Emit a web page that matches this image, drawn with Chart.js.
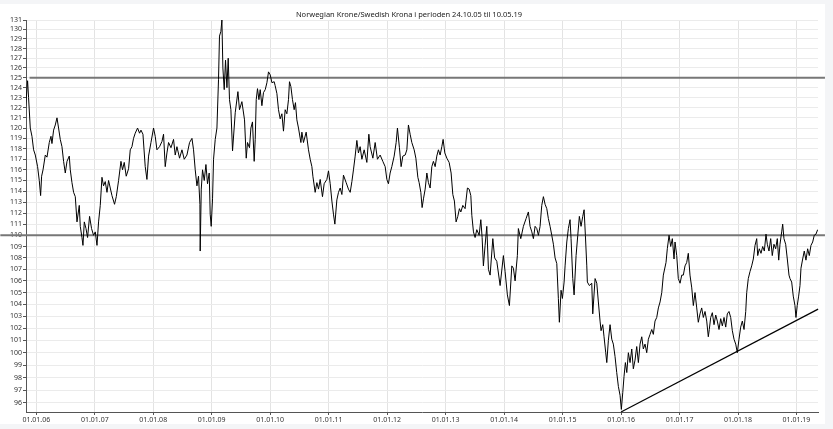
<!DOCTYPE html>
<html>
<head>
<meta charset="utf-8">
<script src="https://cdn.jsdelivr.net/npm/chart.js@4.4.1/dist/chart.umd.min.js"></script>
<style>
  html, body { margin: 0; padding: 0; background: #f4f5f7; }
  #wrap { position: absolute; left: 0; top: 4px; width: 825px; height: 420px; background: #fff; }
  canvas { display: block; }
</style>
</head>
<body>
<div id="wrap"><canvas id="nokSek" width="825" height="420"></canvas></div>
<script>
// Title text
const chartTitle = 'Norwegian Krone/Swedish Krona i perioden 24.10.05 til 10.05.19';

// Dates as decimal years
const dateYears = [
  2005.817, 2005.851, 2005.868, 2005.897, 2005.926, 2005.954, 2005.983, 2006.022, 2006.051, 2006.074,
  2006.091, 2006.115, 2006.154, 2006.183, 2006.222, 2006.251, 2006.268, 2006.296, 2006.325, 2006.354,
  2006.381, 2006.410, 2006.439, 2006.467, 2006.496, 2006.525, 2006.564, 2006.581, 2006.610, 2006.638,
  2006.667, 2006.696, 2006.735, 2006.752, 2006.781, 2006.798, 2006.821, 2006.850, 2006.877, 2006.911,
  2006.945, 2006.979, 2007.009, 2007.038, 2007.065, 2007.094, 2007.123, 2007.150, 2007.179, 2007.209,
  2007.236, 2007.265, 2007.294, 2007.338, 2007.368, 2007.407, 2007.448, 2007.475, 2007.504, 2007.538,
  2007.578, 2007.607, 2007.636, 2007.663, 2007.692, 2007.732, 2007.766, 2007.790, 2007.824, 2007.863,
  2007.892, 2007.920, 2007.961, 2008.005, 2008.034, 2008.063, 2008.108, 2008.149, 2008.176, 2008.205,
  2008.234, 2008.262, 2008.303, 2008.347, 2008.376, 2008.405, 2008.450, 2008.491, 2008.530, 2008.576,
  2008.621, 2008.662, 2008.689, 2008.718, 2008.747, 2008.774, 2008.798, 2008.803, 2008.821, 2008.843,
  2008.872, 2008.901, 2008.928, 2008.957, 2008.974, 2008.991, 2009.014, 2009.031, 2009.060, 2009.089,
  2009.116, 2009.133, 2009.157, 2009.174, 2009.191, 2009.214, 2009.236, 2009.260, 2009.282, 2009.304,
  2009.328, 2009.356, 2009.402, 2009.448, 2009.475, 2009.516, 2009.561, 2009.590, 2009.612, 2009.646,
  2009.670, 2009.697, 2009.726, 2009.744, 2009.761, 2009.783, 2009.807, 2009.829, 2009.858, 2009.885,
  2009.915, 2009.944, 2009.971, 2010.000, 2010.029, 2010.068, 2010.085, 2010.115, 2010.142, 2010.171,
  2010.200, 2010.227, 2010.256, 2010.285, 2010.313, 2010.330, 2010.354, 2010.381, 2010.410, 2010.432,
  2010.456, 2010.484, 2010.525, 2010.542, 2010.569, 2010.615, 2010.655, 2010.684, 2010.713, 2010.730,
  2010.769, 2010.798, 2010.826, 2010.855, 2010.894, 2010.923, 2010.969, 2010.997, 2011.026, 2011.055,
  2011.082, 2011.106, 2011.140, 2011.168, 2011.197, 2011.226, 2011.253, 2011.299, 2011.338, 2011.368,
  2011.397, 2011.424, 2011.453, 2011.482, 2011.509, 2011.538, 2011.568, 2011.607, 2011.653, 2011.687,
  2011.709, 2011.756, 2011.795, 2011.834, 2011.880, 2011.926, 2011.966, 2011.995, 2012.022, 2012.051,
  2012.080, 2012.120, 2012.154, 2012.176, 2012.210, 2012.239, 2012.268, 2012.308, 2012.337, 2012.364,
  2012.393, 2012.422, 2012.462, 2012.491, 2012.525, 2012.547, 2012.576, 2012.598, 2012.621, 2012.650,
  2012.679, 2012.706, 2012.735, 2012.764, 2012.791, 2012.821, 2012.849, 2012.877, 2012.906, 2012.935,
  2012.957, 2012.986, 2013.021, 2013.060, 2013.094, 2013.123, 2013.150, 2013.179, 2013.208, 2013.236,
  2013.260, 2013.294, 2013.333, 2013.373, 2013.402, 2013.431, 2013.448, 2013.476, 2013.504, 2013.533,
  2013.573, 2013.602, 2013.624, 2013.646, 2013.675, 2013.704, 2013.732, 2013.761, 2013.807, 2013.838,
  2013.875, 2013.932, 2013.988, 2014.017, 2014.056, 2014.091, 2014.132, 2014.159, 2014.188, 2014.227,
  2014.244, 2014.285, 2014.330, 2014.376, 2014.415, 2014.444, 2014.474, 2014.501, 2014.530, 2014.559,
  2014.587, 2014.615, 2014.644, 2014.672, 2014.701, 2014.730, 2014.757, 2014.786, 2014.815, 2014.843,
  2014.872, 2014.901, 2014.928, 2014.945, 2014.974, 2014.997, 2015.026, 2015.043, 2015.072, 2015.099,
  2015.128, 2015.145, 2015.174, 2015.197, 2015.231, 2015.260, 2015.287, 2015.316, 2015.345, 2015.368,
  2015.390, 2015.414, 2015.424, 2015.458, 2015.499, 2015.516, 2015.556, 2015.585, 2015.612, 2015.641,
  2015.658, 2015.687, 2015.709, 2015.738, 2015.756, 2015.783, 2015.812, 2015.841, 2015.868, 2015.897,
  2015.926, 2015.954, 2015.983, 2016.005, 2016.029, 2016.051, 2016.074, 2016.098, 2016.125, 2016.154,
  2016.183, 2016.210, 2016.239, 2016.268, 2016.296, 2016.325, 2016.354, 2016.381, 2016.410, 2016.439,
  2016.467, 2016.496, 2016.525, 2016.552, 2016.581, 2016.610, 2016.638, 2016.667, 2016.696, 2016.723,
  2016.769, 2016.791, 2016.821, 2016.849, 2016.877, 2016.906, 2016.923, 2016.952, 2016.979, 2017.009,
  2017.038, 2017.065, 2017.094, 2017.123, 2017.150, 2017.179, 2017.209, 2017.236, 2017.265, 2017.294,
  2017.321, 2017.350, 2017.379, 2017.407, 2017.436, 2017.465, 2017.492, 2017.509, 2017.533, 2017.561,
  2017.590, 2017.619, 2017.646, 2017.675, 2017.704, 2017.732, 2017.761, 2017.790, 2017.817, 2017.846,
  2017.875, 2017.903, 2017.932, 2017.961, 2017.988, 2018.017, 2018.046, 2018.074, 2018.103, 2018.132,
  2018.149, 2018.176, 2018.205, 2018.234, 2018.262, 2018.291, 2018.320, 2018.337, 2018.364, 2018.393,
  2018.422, 2018.450, 2018.479, 2018.501, 2018.530, 2018.559, 2018.586, 2018.615, 2018.644, 2018.672,
  2018.696, 2018.718, 2018.747, 2018.764, 2018.786, 2018.815, 2018.843, 2018.872, 2018.889, 2018.918,
  2018.945, 2018.974, 2018.991, 2019.013, 2019.037, 2019.060, 2019.077, 2019.106, 2019.133, 2019.162,
  2019.191, 2019.219, 2019.248, 2019.277, 2019.304, 2019.333, 2019.362
];

// NOK/SEK (SEK per 100 NOK)
const rateValues = [
  122.0, 124.7, 123.0, 120.0, 119.2, 117.9, 117.4, 116.3, 115.0, 113.6,
  115.4, 116.0, 117.4, 117.2, 118.6, 119.2, 118.5, 119.8, 120.3, 121.0,
  120.0, 118.9, 118.2, 116.8, 115.7, 116.8, 117.3, 116.0, 114.8, 113.9,
  113.5, 111.2, 112.7, 110.8, 109.8, 109.1, 111.2, 110.6, 109.8, 111.7,
  110.6, 110.0, 110.3, 109.1, 111.2, 112.7, 115.3, 114.5, 114.9, 113.9,
  115.0, 114.3, 113.6, 112.8, 113.5, 115.0, 116.8, 116.0, 116.7, 115.4,
  116.1, 117.9, 118.2, 119.0, 119.5, 120.0, 119.5, 119.8, 119.4, 116.3,
  115.1, 117.3, 118.6, 120.0, 119.2, 117.9, 118.2, 118.7, 119.4, 116.3,
  117.6, 118.6, 118.1, 118.9, 117.4, 118.2, 117.1, 117.9, 117.0, 117.4,
  118.6, 119.0, 117.9, 116.0, 114.5, 115.4, 112.8, 108.6, 114.2, 116.0,
  115.0, 116.5, 114.7, 115.7, 111.9, 110.8, 113.3, 117.0, 118.9, 120.0,
  124.8, 129.3, 129.8, 131.0, 126.0, 123.8, 126.8, 124.0, 127.0, 122.8,
  121.8, 117.8, 121.5, 123.6, 121.8, 122.6, 120.8, 117.1, 118.6, 118.1,
  120.0, 120.6, 116.8, 118.9, 122.8, 123.9, 122.8, 123.8, 122.2, 123.5,
  123.8, 124.5, 125.6, 125.3, 124.5, 124.6, 124.2, 123.4, 121.8, 120.9,
  121.4, 119.7, 121.8, 121.4, 122.8, 124.6, 124.1, 122.8, 121.8, 122.5,
  120.8, 120.0, 118.6, 119.6, 118.6, 119.6, 117.9, 117.0, 116.3, 115.4,
  113.9, 114.8, 114.2, 115.1, 113.5, 114.7, 115.1, 115.9, 114.7, 113.1,
  111.9, 111.0, 113.2, 113.9, 114.3, 113.7, 115.5, 114.8, 114.2, 113.9,
  114.9, 116.0, 117.3, 118.8, 117.6, 118.2, 117.0, 117.9, 116.7, 119.4,
  118.2, 117.1, 118.6, 117.0, 117.4, 116.8, 116.3, 115.1, 114.7, 115.7,
  116.3, 117.3, 118.6, 120.0, 118.1, 116.3, 117.3, 117.4, 117.9, 120.3,
  119.4, 118.6, 117.9, 117.1, 115.3, 114.8, 113.9, 112.5, 113.3, 114.2,
  115.7, 114.8, 114.3, 116.3, 116.8, 116.3, 117.3, 117.9, 117.4, 118.2,
  118.9, 117.6, 117.1, 116.7, 115.7, 113.7, 113.1, 111.2, 111.7, 112.4,
  112.1, 112.7, 112.4, 114.3, 114.2, 113.6, 111.8, 110.3, 109.8, 110.5,
  110.0, 111.4, 109.8, 107.3, 109.1, 110.8, 107.0, 106.5, 109.7, 108.0,
  107.7, 105.6, 108.2, 106.8, 104.8, 103.9, 107.3, 107.1, 106.0, 108.2,
  110.6, 109.7, 110.8, 111.5, 112.1, 110.8, 110.3, 109.7, 110.8, 110.6,
  110.0, 110.8, 112.7, 113.5, 112.8, 112.4, 111.5, 110.8, 110.0, 109.2,
  108.0, 107.5, 104.5, 102.5, 105.2, 104.5, 105.9, 107.3, 109.4, 110.6,
  111.4, 109.7, 106.2, 104.8, 108.2, 110.0, 111.7, 110.8, 111.7, 112.3,
  110.0, 107.3, 105.9, 105.6, 105.8, 103.2, 106.2, 105.8, 104.2, 102.6,
  101.8, 102.3, 101.3, 100.0, 99.2, 101.0, 102.3, 101.1, 100.7, 99.7,
  98.4, 97.3, 96.6, 95.5, 96.8, 98.1, 99.2, 98.4, 100.0, 99.2,
  100.3, 98.7, 99.4, 100.5, 99.2, 100.7, 101.3, 100.3, 100.7, 100.0,
  101.1, 101.5, 101.9, 101.5, 102.6, 102.9, 103.7, 104.2, 105.0, 106.5,
  107.6, 108.8, 110.0, 109.0, 109.7, 107.9, 109.4, 108.2, 106.2, 105.8,
  106.5, 106.5, 107.3, 107.6, 108.4, 106.5, 105.4, 103.9, 105.0, 103.7,
  102.5, 103.2, 103.7, 102.9, 103.4, 102.6, 101.3, 101.9, 102.9, 103.3,
  102.3, 103.1, 102.6, 101.9, 102.8, 102.2, 102.9, 102.1, 103.2, 103.4,
  102.9, 101.8, 101.1, 100.7, 100.0, 101.1, 102.1, 102.6, 101.9, 103.4,
  105.0, 106.2, 106.8, 107.3, 107.9, 109.1, 109.7, 108.2, 108.8, 108.4,
  109.0, 108.6, 110.1, 109.2, 108.6, 109.7, 108.2, 109.2, 108.8, 109.7,
  107.8, 109.2, 110.3, 111.0, 109.7, 109.2, 107.9, 106.5, 106.2, 105.9,
  104.7, 103.9, 102.9, 103.9, 104.7, 105.6, 107.1, 107.9, 108.6, 107.8,
  108.8, 108.2, 109.1, 109.4, 110.0, 110.1, 110.5
];

// Horizontal resistance/support levels and their date spans
const levelValues = [125, 110];
const levelStarts = [2005.885, 2005.385];
const levelEnd = 2019.487;

// Rising trend line (two anchor points)
const trendDates = [2016.0, 2019.37];
const trendValues = [95.3, 103.6];

// Axis ticks
const yTicks = [96, 97, 98, 99, 100, 101, 102, 103, 104, 105, 106, 107, 108, 109, 110, 111, 112, 113,
  114, 115, 116, 117, 118, 119, 120, 121, 122, 123, 124, 125, 126, 127, 128, 129, 130, 131];
const xTickYears = [2006, 2007, 2008, 2009, 2010, 2011, 2012, 2013, 2014, 2015, 2016, 2017, 2018, 2019];
const xTickLabels = ['01.01.06', '01.01.07', '01.01.08', '01.01.09', '01.01.10', '01.01.11', '01.01.12',
  '01.01.13', '01.01.14', '01.01.15', '01.01.16', '01.01.17', '01.01.18', '01.01.19'];

const font = { family: "'Noto Sans', 'DejaVu Sans', sans-serif", size: 7 };

const seriesData = dateYears.map((d, i) => ({ x: d, y: rateValues[i] }));

const levelSets = levelValues.map((v, i) => ({
  data: [{ x: levelStarts[i], y: v }, { x: levelEnd, y: v }],
  borderColor: '#777777',
  borderWidth: 2,
  pointRadius: 0,
  clip: false,
  order: 2
}));

const config = {
  type: 'line',
  data: {
    datasets: [
      {
        data: seriesData,
        borderColor: '#000000',
        borderWidth: 1,
        pointRadius: 0,
        tension: 0,
        order: 1
      },
      ...levelSets,
      {
        data: trendDates.map((d, i) => ({ x: d, y: trendValues[i] })),
        borderColor: '#000000',
        borderWidth: 1.2,
        pointRadius: 0,
        clip: false,
        order: 0
      }
    ]
  },
  options: {
    responsive: false,
    animation: false,
    devicePixelRatio: 1,
    layout: { padding: { left: 0, right: 7, top: 0, bottom: 0 } },
    plugins: {
      legend: { display: false },
      tooltip: { enabled: false },
      title: {
        display: true,
        text: chartTitle,
        color: '#222',
        font: { family: font.family, size: 7.5, weight: 'normal' },
        padding: { top: 6, bottom: 1 }
      }
    },
    scales: {
      x: {
        type: 'linear',
        min: 2005.824,
        max: 2019.368,
        afterBuildTicks: (scale) => { scale.ticks = xTickYears.map(v => ({ value: v })); },
        afterFit: (scale) => { scale.height = 12; },
        ticks: {
          autoSkip: false,
          maxRotation: 0,
          padding: 1,
          color: '#333',
          font: font,
          callback: (v, i) => xTickLabels[i]
        },
        grid: { color: '#e3e3e3', tickColor: '#555', tickLength: 3 },
        border: { color: '#555', width: 1 }
      },
      y: {
        type: 'logarithmic',
        min: 95.3,
        max: 131,
        afterBuildTicks: (scale) => { scale.ticks = yTicks.map(v => ({ value: v })); },
        afterFit: (scale) => { scale.width = 26; },
        ticks: {
          autoSkip: false,
          padding: 1,
          color: '#333',
          font: font,
          callback: (v) => String(v)
        },
        grid: { color: '#ebebeb', tickColor: '#555', tickLength: 3 },
        border: { color: '#555', width: 1 }
      }
    }
  }
};

const ctx = document.getElementById('nokSek');
new Chart(ctx, config);
</script>
</body>
</html>
